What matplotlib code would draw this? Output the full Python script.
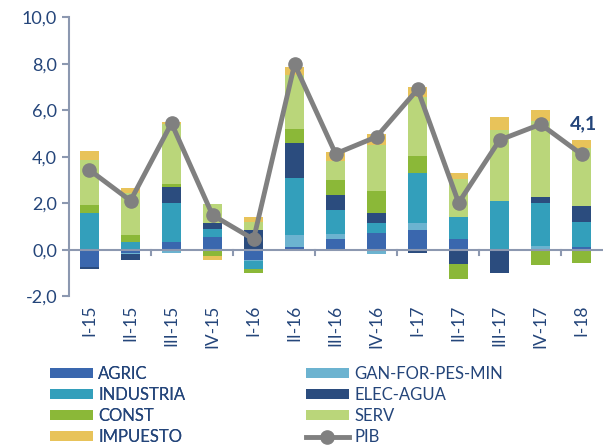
import numpy as np
import matplotlib
matplotlib.use("Agg")
import matplotlib.pyplot as plt

plt.rcParams['font.family'] = ['Lato', 'DejaVu Sans']

quarters = ['I-15', 'II-15', 'III-15', 'IV-15', 'I-16', 'II-16', 'III-16',
            'IV-16', 'I-17', 'II-17', 'III-17', 'IV-17', 'I-18']

agric = [-0.73, -0.13, 0.34, 0.53, -0.45, 0.11, 0.45, 0.73, 0.85, 0.45, 0.00, 0.00, 0.10]
gan = [0.00, -0.05, -0.13, -0.05, -0.03, 0.52, 0.22, -0.19, 0.29, 0.00, 0.05, 0.16, 0.03]
industria = [1.59, 0.33, 1.65, 0.36, -0.36, 2.44, 1.02, 0.44, 2.18, 0.95, 2.04, 1.84, 1.06]
elec = [-0.08, -0.26, 0.72, 0.24, 0.87, 1.54, 0.65, 0.43, -0.13, -0.62, -1.02, 0.29, 0.69]
const = [0.34, 0.29, 0.11, -0.20, -0.14, 0.57, 0.67, 0.92, 0.72, -0.66, 0.00, -0.66, -0.56]
serv = [1.95, 1.81, 2.61, 0.83, 0.33, 2.34, 0.79, 1.98, 2.55, 1.64, 3.05, 3.23, 2.51]
impuesto = [0.36, 0.22, 0.05, -0.17, 0.19, 0.36, 0.39, 0.50, 0.40, 0.26, 0.55, 0.50, 0.32]
pib = [3.43, 2.11, 5.44, 1.49, 0.45, 7.98, 4.13, 4.86, 6.90, 2.02, 4.72, 5.40, 4.10]

series = [
    ('AGRIC', agric, '#3A67AE'),
    ('GAN-FOR-PES-MIN', gan, '#6CB3D0'),
    ('INDUSTRIA', industria, '#339FBB'),
    ('ELEC-AGUA', elec, '#2B4C7E'),
    ('CONST', const, '#8BB838'),
    ('SERV', serv, '#BAD67A'),
    ('IMPUESTO', impuesto, '#E8C35A'),
]

text_col = '#24457A'
axis_col = '#8C98B0'

fig = plt.figure(figsize=(6.03, 4.47), dpi=100)
ax = fig.add_axes([0.1144, 0.3373, 0.8856, 0.624])

x = np.arange(len(quarters))
pos_base = np.zeros(len(quarters))
neg_base = np.zeros(len(quarters))
handles = {}
for name, vals, col in series:
    v = np.array(vals)
    bottom = np.where(v >= 0, pos_base, neg_base)
    b = ax.bar(x, v, 0.45, bottom=bottom, color=col, label=name, zorder=2)
    handles[name] = b
    pos_base = pos_base + np.where(v >= 0, v, 0)
    neg_base = neg_base + np.where(v < 0, v, 0)

line, = ax.plot(x, pib, color='#808080', lw=3.5, marker='o', markersize=9.5,
                label='PIB', zorder=4)
handles['PIB'] = line

ax.annotate('4,1', (x[-1], pib[-1]), xytext=(1, 16), textcoords='offset points',
            ha='center', va='bottom', fontsize=14, fontweight='bold', color=text_col)

ax.set_xlim(-0.5, 12.52)
ax.set_ylim(-2, 10)
ax.set_yticks(np.arange(-2, 10.1, 2))
ax.set_yticklabels([f'{t:.1f}'.replace('.', ',') for t in np.arange(-2, 10.1, 2)])
ax.axhline(0, color=axis_col, lw=1.5, zorder=3)

for s in ['top', 'right', 'bottom']:
    ax.spines[s].set_visible(False)
ax.spines['left'].set_color(axis_col)
ax.spines['left'].set_linewidth(1.5)

ax.tick_params(axis='y', colors=axis_col, labelcolor=text_col, labelsize=13,
               length=5, width=1.5)
ax.set_xticks(x)
ax.set_xticklabels(quarters, rotation=90)
ax.tick_params(axis='x', length=0, labelsize=12.5, labelcolor=text_col, pad=6)

# small ticks on the zero line every two quarters
for xt in np.arange(1.5, 12, 2):
    ax.plot([xt, xt], [0, -0.22], color=axis_col, lw=1.5, zorder=3)

# two legend columns placed separately
legend_kw = dict(loc='lower left', frameon=False, fontsize=12, labelcolor=text_col,
                 handlelength=2.6, handleheight=0.55, handletextpad=0.3,
                 labelspacing=0.3, borderaxespad=0, borderpad=0)
col1 = ['AGRIC', 'INDUSTRIA', 'CONST', 'IMPUESTO']
col2 = ['GAN-FOR-PES-MIN', 'ELEC-AGUA', 'SERV', 'PIB']
leg1 = fig.legend([handles[n] for n in col1], col1,
                  bbox_to_anchor=(0.083, 0.004), **legend_kw)
fig.add_artist(leg1)
fig.legend([handles[n] for n in col2], col2,
           bbox_to_anchor=(0.507, 0.004), **legend_kw)

fig.savefig('out.png', dpi=100)
